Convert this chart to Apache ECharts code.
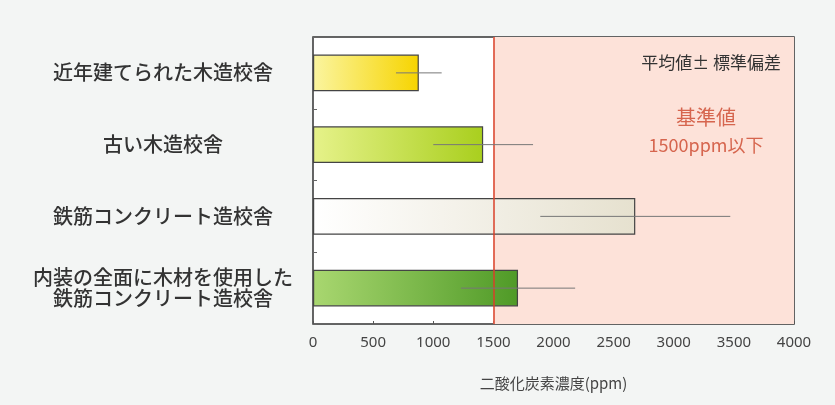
<!DOCTYPE html>
<html><head><meta charset="utf-8">
<script src="https://cdn.jsdelivr.net/npm/echarts@6/dist/echarts.min.js"></script>
<style>html,body{margin:0;padding:0;background:#f3f5f4;}#c{width:835px;height:405px;}</style>
</head><body><div id="c"></div>
<script>
const categories = ['近年建てられた木造校舎', '古い木造校舎', '鉄筋コンクリート造校舎', '内装の全面に木材を使用した\n鉄筋コンクリート造校舎'];
const means = [880, 1415, 2680, 1705];
const sds = [190, 415, 790, 475];
const standard = 1500;
const xTicks = [0, 500, 1000, 1500, 2000, 2500, 3000, 3500, 4000];

const grads = [
  ['#fbf5a0', '#f6d400'],
  ['#e6f28a', '#a9cf1e'],
  ['#ffffff', '#e6e1cf'],
  ['#a9d770', '#4f9a27']
];
const G = (c) => new echarts.graphic.LinearGradient(0, 0, 1, 0, [{offset: 0, color: c[0]}, {offset: 1, color: c[1]}]);

const chart = echarts.init(document.getElementById('c'));
chart.setOption({
  backgroundColor: '#f3f5f4',
  animation: false,
  grid: {left: 313, right: 41, top: 37, bottom: 81, show: true, backgroundColor: '#ffffff', borderColor: '#333', borderWidth: 1.5},
  xAxis: {
    type: 'value', min: xTicks[0], max: xTicks[xTicks.length - 1], interval: 500,
    name: '二酸化炭素濃度(ppm)', nameLocation: 'middle', nameGap: 52,
    nameTextStyle: {fontSize: 15, color: '#444', fontFamily: 'Noto Sans CJK JP'},
    axisLine: {show: false},
    axisTick: {show: true, inside: true, length: 3, lineStyle: {color: '#555'}},
    axisLabel: {fontSize: 15, color: '#444', margin: 11, fontFamily: 'Noto Sans', formatter: (v) => String(v)},
    splitLine: {show: false}
  },
  yAxis: {
    type: 'category', data: categories, inverse: true,
    axisLine: {show: false},
    axisTick: {show: true, inside: true, length: 4, lineStyle: {color: '#666'}},
    axisLabel: {align: 'center', margin: 150, fontSize: 20, lineHeight: 21, fontWeight: 500, color: '#333', fontFamily: 'Noto Sans CJK JP'}
  },
  series: [
    {
      type: 'bar', barWidth: '51%',
      data: means.map((v, i) => ({value: v, itemStyle: {color: G(grads[i])}})),
      itemStyle: {borderColor: '#444', borderWidth: 1.2},
      markArea: {silent: true, itemStyle: {color: '#fde2d9'}, data: [[{xAxis: standard}, {xAxis: xTicks[xTicks.length - 1]}]]},
      z: 2
    },
    {
      type: 'custom', z: 5,
      data: means.map((m, i) => [i, m - sds[i], m + sds[i]]),
      renderItem: function (params, api) {
        const y = api.coord([0, api.value(0)])[1];
        const p1 = api.coord([api.value(1), api.value(0)]);
        const p2 = api.coord([api.value(2), api.value(0)]);
        return {type: 'line', shape: {x1: p1[0], y1: y, x2: p2[0], y2: y}, style: {stroke: '#777', lineWidth: 1}};
      },
      encode: {x: [1, 2], y: 0}
    },
    {
      type: 'line', data: [], z: 6,
      markLine: {silent: true, symbol: 'none', label: {show: false}, lineStyle: {color: '#d8402a', width: 1.5, type: 'solid'}, data: [{xAxis: standard}]}
    }
  ],
  graphic: [
    {type: 'text', z: 100, x: 781, y: 63, style: {text: '平均値± 標準偏差', fontSize: 17, fill: '#333', align: 'right', verticalAlign: 'middle', fontFamily: 'Noto Sans CJK JP'}},
    {type: 'text', z: 100, x: 706, y: 117, style: {text: '基準値', fontSize: 20, fill: '#d6654e', align: 'center', verticalAlign: 'middle', fontFamily: 'Noto Sans CJK JP'}},
    {type: 'text', z: 100, x: 706, y: 145, style: {text: '1500ppm以下', fontSize: 18, fill: '#d6654e', align: 'center', verticalAlign: 'middle', fontFamily: 'Noto Sans CJK JP'}}
  ]
});
</script>
</body></html>
